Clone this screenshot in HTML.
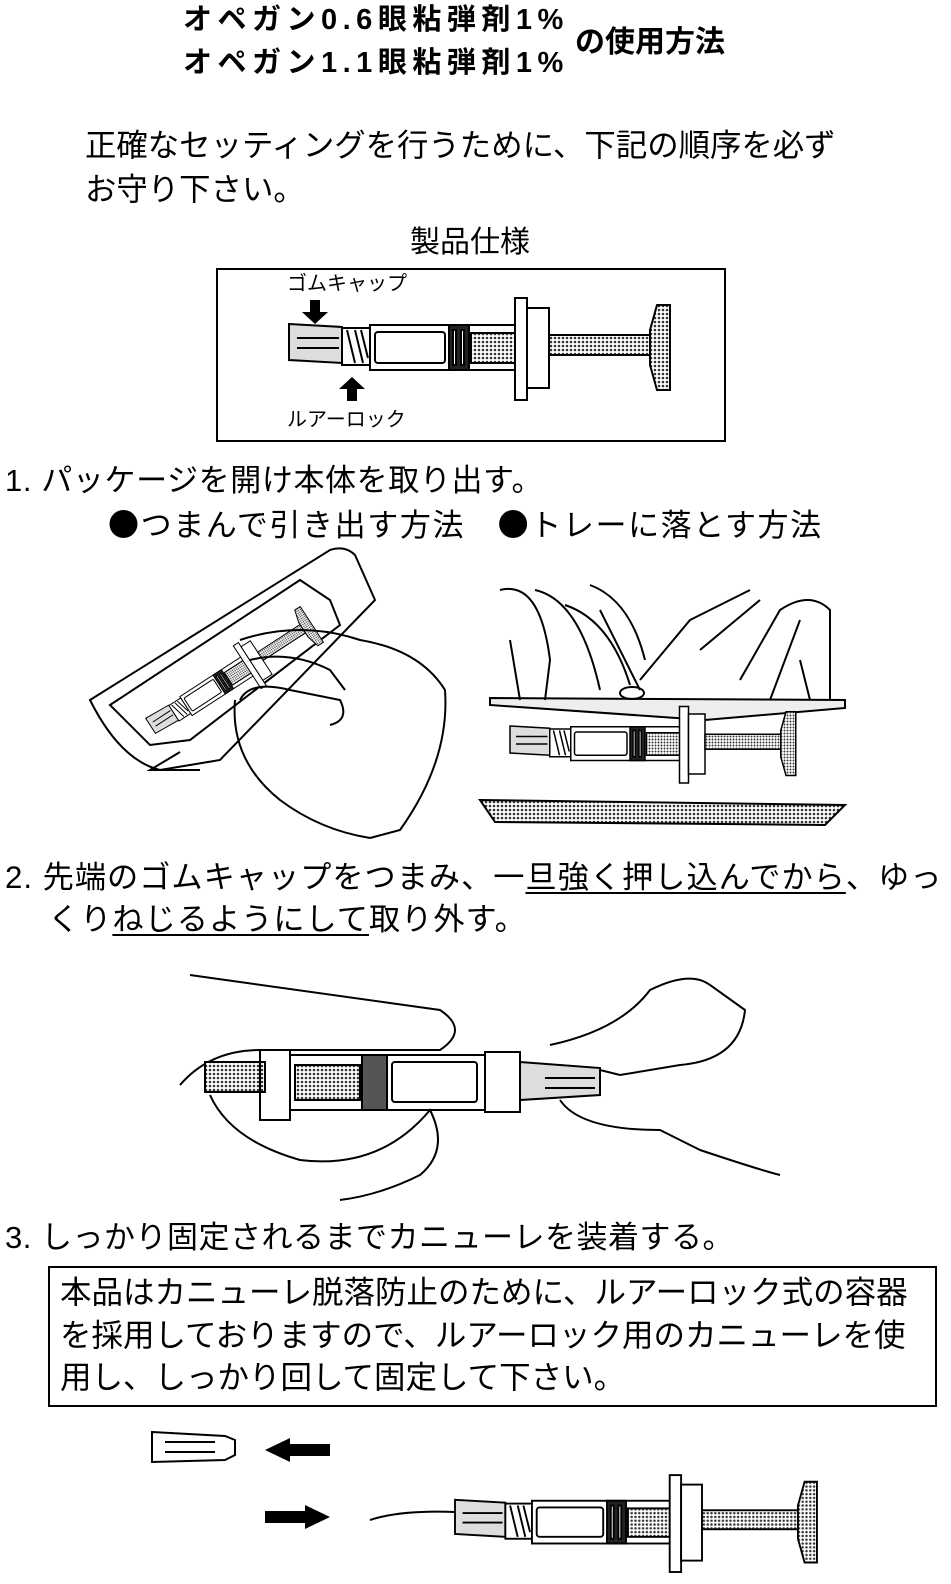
<!DOCTYPE html>
<html><head><meta charset="utf-8">
<style>
html,body{margin:0;padding:0;background:#fff;}
body{width:951px;height:1584px;position:relative;overflow:hidden;font-family:"Liberation Sans","Noto Sans CJK JP",sans-serif;color:#000;}
.t{position:absolute;white-space:nowrap;line-height:1;}
u{text-decoration:underline;text-underline-offset:4px;text-decoration-thickness:1.5px;}
.b{font-family:"Noto Sans CJK JP",sans-serif;}
</style></head><body>
<div class="t" style="left:183px;top:6px;font-size:29px;font-weight:bold;letter-spacing:5.5px;">オペガン0.6眼粘弾剤1%</div>
<div class="t" style="left:183px;top:49px;font-size:29px;font-weight:bold;letter-spacing:5.5px;">オペガン1.1眼粘弾剤1%</div>
<div class="t" style="left:575px;top:28px;font-size:30px;font-weight:bold;">の使用方法</div>

<div class="t" style="left:85px;top:130px;font-size:31.4px;">正確なセッティングを行うために、下記の順序を必ず</div>
<div class="t" style="left:85px;top:174px;font-size:31.4px;">お守り下さい。</div>
<div class="t" style="left:410px;top:228px;font-size:30px;">製品仕様</div>

<div style="position:absolute;left:216px;top:268px;width:506px;height:170px;border:2px solid #000;"></div>
<div class="t" style="left:287px;top:274px;font-size:20px;">ゴムキャップ</div>
<div class="t" style="left:287px;top:410px;font-size:20px;">ルアーロック</div>

<div class="t" style="left:5px;top:465px;font-size:31px;letter-spacing:0.6px;">1. パッケージを開け本体を取り出す。</div>
<div class="t" style="left:108px;top:507px;font-size:31px;letter-spacing:1.6px;"><span class="b">●</span>つまんで引き出す方法　<span class="b">●</span>トレーに落とす方法</div>

<div class="t" style="left:5px;top:862px;font-size:31.2px;letter-spacing:1px;">2. 先端のゴムキャップをつまみ、一<u>旦強く押し込んでから</u>、ゆっ</div>
<div class="t" style="left:48px;top:904px;font-size:31.2px;letter-spacing:1px;">くり<u>ねじるようにして</u>取り外す。</div>

<div class="t" style="left:5px;top:1222px;font-size:31px;letter-spacing:0.5px;">3. しっかり固定されるまでカニューレを装着する。</div>
<div style="position:absolute;left:48px;top:1266px;width:885px;height:137px;border:2px solid #000;"></div>
<div class="t" style="left:60px;top:1277px;font-size:31.5px;">本品はカニューレ脱落防止のために、ルアーロック式の容器</div>
<div class="t" style="left:60px;top:1320px;font-size:31.5px;">を採用しておりますので、ルアーロック用のカニューレを使</div>
<div class="t" style="left:60px;top:1362px;font-size:31.5px;">用し、しっかり回して固定して下さい。</div>

<svg width="951" height="1584" style="position:absolute;left:0;top:0" xmlns="http://www.w3.org/2000/svg">
<defs>
<pattern id="dot" width="4" height="4" patternUnits="userSpaceOnUse"><rect width="4" height="4" fill="#fff"/><circle cx="2" cy="2" r="1.3" fill="#333"/></pattern>
<g id="syr" stroke="#000" stroke-width="2" fill="#fff">
 <path d="M0,-16 L53,-13 L53,23 L0,20 Z" fill="#ddd"/>
 <line x1="8" y1="-2" x2="50" y2="-2"/><line x1="8" y1="8" x2="50" y2="8"/>
 <rect x="53" y="-12" width="28" height="37"/>
 <path d="M58,-10 L66,23 M66,-10 L74,23 M72,-10 L79,18" />
 <rect x="81" y="-15" width="148" height="45"/>
 <rect x="86" y="-8" width="70" height="31" rx="3"/>
 <rect x="160" y="-15" width="20" height="45" fill="#222"/>
 <rect x="164" y="-10" width="3" height="35" fill="#fff"/><rect x="172" y="-10" width="3" height="35" fill="#fff"/>
 <rect x="182" y="-7" width="45" height="30" fill="url(#dot)"/>
 <rect x="226" y="-42" width="12" height="102"/>
 <rect x="238" y="-32" width="22" height="80"/>
 <rect x="260" y="-5" width="101" height="20" fill="url(#dot)"/>
 <path d="M361,-10 L368,-35 L381,-35 L381,50 L368,50 L361,25 Z" fill="url(#dot)"/>
</g>
</defs>
<use href="#syr" transform="translate(289,340)"/>
<path d="M310,300 h10 v12 h8 l-13,12 l-13,-12 h8 z" fill="#000"/>
<path d="M352,377 l-13,12 h8 v12 h10 v-12 h8 z" fill="#000"/>

<g stroke="#000" stroke-width="2" fill="none">
 <path d="M90,700 L330,550 Q345,545 355,555 L375,600 L220,760 L160,770 Q120,760 90,700 Z"/>
 <path d="M110,705 L300,580 L330,600 L340,625 L190,740 L150,745 Z"/>
 <path d="M180,752 L150,770 L200,770"/>
 <use href="#syr" transform="translate(150,725) rotate(-33) scale(0.5)"/>
 <path d="M240,640 Q300,620 360,640 Q420,650 445,690 Q450,760 400,830 L370,838"/>
 <path d="M250,660 Q290,650 330,670 L345,690"/>
 <path d="M235,700 Q230,760 280,800 Q320,830 370,838"/>
 <path d="M240,700 Q250,680 290,690 L340,700 Q350,720 330,725"/>
</g>
<g stroke="#000" stroke-width="2" fill="none">
 <path d="M490,698 L845,700 L845,708 L705,720 L490,705 Z" fill="#eee"/>
 <path d="M510,640 L520,700 M800,660 L810,700"/>
 <path d="M500,590 Q540,580 550,660 L545,700 M535,590 Q580,600 600,690 M565,605 Q610,620 630,685 M590,585 Q630,600 645,660 M600,610 L640,690"/>
 <path d="M640,680 L690,620 Q730,600 750,590 M700,650 L760,600 M740,680 L780,610 Q810,590 830,610 L830,700 M770,700 L800,620"/>
 <ellipse cx="632" cy="693" rx="12" ry="6"/>
 <use href="#syr" transform="translate(510,738) scale(0.75)"/>
 <path d="M480,800 L845,805 L825,825 L495,822 Z" fill="url(#dot)"/>
</g>
<g stroke="#000" stroke-width="2" fill="none">
 <path d="M190,975 Q300,990 440,1010 Q470,1030 440,1050 L290,1050"/>
 <path d="M180,1085 Q210,1050 260,1050"/>
 <rect x="205" y="1062" width="60" height="30" fill="url(#dot)"/>
 <rect x="260" y="1050" width="30" height="70"/>
 <rect x="290" y="1055" width="195" height="55"/>
 <rect x="295" y="1065" width="65" height="35" fill="url(#dot)"/>
 <rect x="362" y="1055" width="25" height="55" fill="#555"/>
 <rect x="392" y="1062" width="85" height="40" rx="3"/>
 <rect x="485" y="1052" width="35" height="60"/>
 <path d="M520,1062 L600,1068 L600,1095 L520,1100 Z" fill="#ddd"/>
 <line x1="545" y1="1078" x2="595" y2="1078"/><line x1="545" y1="1088" x2="595" y2="1088"/>
 <path d="M550,1045 Q620,1030 650,990 Q690,970 710,985 L745,1010 Q740,1060 680,1065 L620,1075 L600,1070"/>
 <path d="M560,1100 Q580,1130 660,1130 L700,1150 Q760,1170 780,1175"/>
 <path d="M210,1095 Q230,1140 300,1160 Q380,1170 430,1110 Q450,1150 420,1175 Q380,1195 340,1200"/>
</g>
<g stroke="#000" stroke-width="2" fill="none">
 <path d="M152,1432 L225,1436 L235,1440 L235,1455 L225,1460 L152,1462 Z"/>
 <line x1="165" y1="1442" x2="215" y2="1442"/><line x1="165" y1="1452" x2="215" y2="1452"/>
 <path d="M370,1520 Q400,1510 455,1512"/>
</g>
<path d="M265,1450 L290,1438 V1444 H330 V1456 H290 V1462 Z" fill="#000"/>
<path d="M330,1517 L305,1505 V1511 H265 V1523 H305 V1529 Z" fill="#000"/>
<use href="#syr" transform="translate(455,1515) scale(0.95)"/>
</svg>
</body></html>
